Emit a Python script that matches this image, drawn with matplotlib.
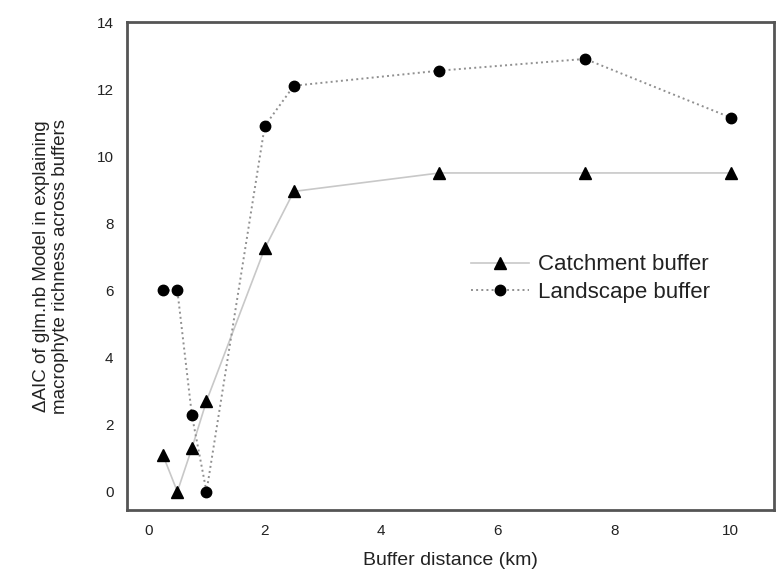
import matplotlib
matplotlib.use("Agg")
import matplotlib.pyplot as plt

plt.rcParams['font.family'] = ['Liberation Sans', 'DejaVu Sans']

# Buffer distances (km)
distance = [0.25, 0.5, 0.75, 1, 2, 2.5, 5, 7.5, 10]
# delta AIC values
catchment = [1.1, 0.0, 1.3, 2.7, 7.25, 8.95, 9.5, 9.5, 9.5]
landscape = [6.0, 6.0, 2.27, 0.0, 10.9, 12.1, 12.55, 12.9, 11.15]

fig = plt.figure(figsize=(7.76, 5.79), dpi=100)
ax = fig.add_axes([0.164, 0.119, 0.834, 0.843])

ax.plot(distance, catchment, color='#c8c8c8', linestyle='-', linewidth=1.2,
        marker='^', markersize=8, markerfacecolor='black', markeredgecolor='black',
        label='Catchment buffer')
ax.plot(distance, landscape, color='#909090', linestyle=':', linewidth=1.4,
        marker='o', markersize=7.5, markerfacecolor='black', markeredgecolor='black',
        label='Landscape buffer')

ax.set_xlim(-0.36, 10.75)
ax.set_ylim(-0.55, 14)
ax.set_xticks([0, 2, 4, 6, 8, 10])
ax.set_yticks([0, 2, 4, 6, 8, 10, 12, 14])
ax.tick_params(length=0, labelsize=11, colors='#222222', pad=10)

for s in ax.spines.values():
    s.set_color('#555555')
    s.set_linewidth(2)

ax.set_xlabel('Buffer distance (km)', fontsize=14, color='#222222', labelpad=10)
ax.set_ylabel('\u0394AIC of glm.nb Model in explaining\nmacrophyte richness across buffers',
              fontsize=13.5, color='#222222', labelpad=20, linespacing=1.1)

ax.legend(loc='upper left', bbox_to_anchor=(0.5, 0.565), frameon=False,
          fontsize=16, handlelength=2.6, handletextpad=0.4, labelspacing=0.3,
          labelcolor='#222222')

fig.savefig('out.png', dpi=100)
